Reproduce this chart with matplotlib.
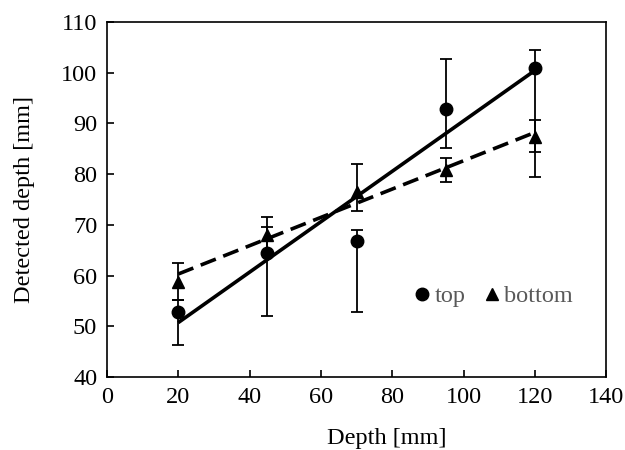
import numpy as np
import matplotlib
matplotlib.use("Agg")
import matplotlib.pyplot as plt
from matplotlib.lines import Line2D

plt.rcParams['font.family'] = ['Liberation Serif', 'DejaVu Serif']

depth = [20, 45, 70, 95, 120]
top_vals = [52.9, 64.5, 66.9, 92.8, 100.9]
top_err_low = [6.5, 12.5, 14.1, 7.7, 21.4]
top_err_high = [2.3, 5.1, 2.1, 10.0, 3.6]
bottom_vals = [58.8, 68.0, 76.5, 80.8, 87.3]
bottom_err_low = [3.6, 3.5, 3.8, 2.3, 2.9]
bottom_err_high = [3.7, 3.5, 5.5, 2.3, 3.4]

xticks = [0, 20, 40, 60, 80, 100, 120, 140]
yticks = [40, 50, 60, 70, 80, 90, 100, 110]

fs = 17.5

fig = plt.figure(figsize=(6.25, 4.5), dpi=100)
ax = fig.add_axes([0.171, 0.162, 0.799, 0.789])

# trend lines (linear fits)
xs = np.array([min(depth), max(depth)])
pt = np.polyfit(depth, top_vals, 1)
pb = np.polyfit(depth, bottom_vals, 1)
ax.plot(xs, np.polyval(pt, xs), color='black', lw=2.6, solid_capstyle='butt', zorder=2)
ax.plot(xs, np.polyval(pb, xs), color='black', lw=2.6, dashes=(4.5, 2.2), zorder=2)

ax.errorbar(depth, top_vals, yerr=[top_err_low, top_err_high], fmt='o', color='black',
            ms=9, ecolor='black', elinewidth=1.3, capsize=4, capthick=1.3, zorder=3)
ax.errorbar(depth, bottom_vals, yerr=[bottom_err_low, bottom_err_high], fmt='^', color='black',
            ms=8.5, ecolor='black', elinewidth=1.3, capsize=4, capthick=1.3, zorder=3)

ax.set_xlim(0, 140)
ax.set_ylim(40, 110)
ax.set_xticks(xticks)
ax.set_yticks(yticks)
ax.tick_params(direction='in', length=5, width=1.2, labelsize=fs, pad=7, colors='black')
for s in ax.spines.values():
    s.set_linewidth(1.2)

ax.set_xlabel('Depth [mm]', fontsize=fs, labelpad=16)
ax.xaxis.set_label_coords(0.56, -0.172)
ax.xaxis.label.set_va('center')
ax.set_ylabel('Detected depth [mm]', fontsize=fs, labelpad=19)

handles = [Line2D([], [], marker='o', color='black', ls='none', ms=9),
           Line2D([], [], marker='^', color='black', ls='none', ms=8.5)]
leg = ax.legend(handles, ['top', 'bottom'], ncol=2, frameon=False, loc='center left',
                bbox_to_anchor=(0.607, 0.228), borderaxespad=0, borderpad=0,
                fontsize=fs, handletextpad=0.0, columnspacing=0.6, handlelength=1.0)
for t in leg.get_texts():
    t.set_color('#595959')

fig.savefig('out.png', dpi=100)
